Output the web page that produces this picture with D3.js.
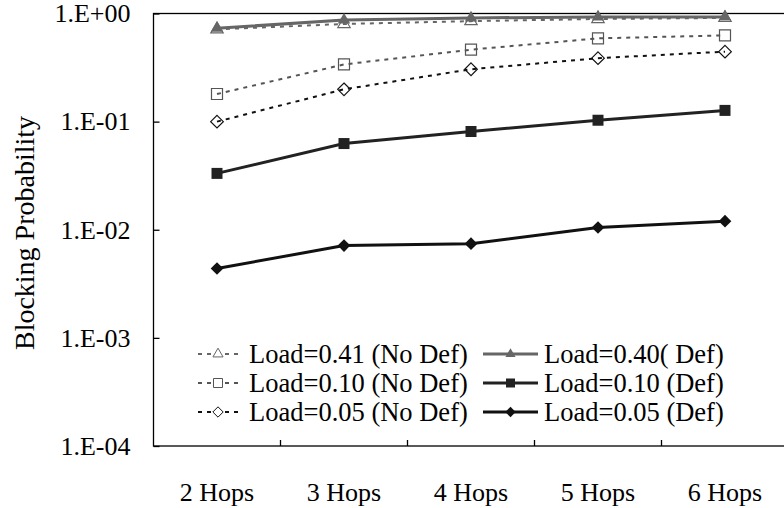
<!DOCTYPE html>
<html><head><meta charset="utf-8">
<script src="https://cdn.jsdelivr.net/npm/d3@7"></script>
<style>html,body{margin:0;padding:0;background:#fff;overflow:hidden}</style>
</head><body><svg id="c" width="784" height="508"></svg>
<script>
const categories = ["2 Hops","3 Hops","4 Hops","5 Hops","6 Hops"];
const yTicks = [1,1e-1,1e-2,1e-3,1e-4];
const yTickLabels = ["1.E+00","1.E-01","1.E-02","1.E-03","1.E-04"];
const load041NoDef = [0.714,0.80,0.85,0.89,0.91];
const load040Def   = [0.73,0.87,0.91,0.93,0.93];
const load010NoDef = [0.18,0.338,0.463,0.589,0.627];
const load010Def   = [0.0332,0.0627,0.081,0.103,0.127];
const load005NoDef = [0.10,0.199,0.305,0.386,0.444];
const load005Def   = [0.00438,0.00714,0.00743,0.0105,0.012];
const seriesNames = ["Load=0.41 (No Def)","Load=0.40( Def)","Load=0.10 (No Def)","Load=0.10 (Def)","Load=0.05 (No Def)","Load=0.05 (Def)"];

const series = [
  {name:seriesNames[0], vals:load041NoDef, color:"#666", dash:"4,5", w:2, marker:"triangle", fill:"#fff"},
  {name:seriesNames[1], vals:load040Def,   color:"#666", dash:null,  w:3, marker:"triangle", fill:"#666"},
  {name:seriesNames[2], vals:load010NoDef, color:"#555", dash:"4,5", w:2, marker:"square", fill:"#fff"},
  {name:seriesNames[3], vals:load010Def,   color:"#222", dash:null,  w:3, marker:"square", fill:"#222"},
  {name:seriesNames[4], vals:load005NoDef, color:"#111", dash:"4,5", w:2, marker:"diamond", fill:"#fff"},
  {name:seriesNames[5], vals:load005Def,   color:"#111", dash:null,  w:3, marker:"diamond", fill:"#111"}
];

const svg = d3.select("#c");
const L=153.5, R=788.5, T=13.5, B=446;
const x = d3.scaleBand().domain(categories).range([L,R]);
const y = d3.scaleLog().domain([1e-4,1]).range([B,T]);
const font = "'Liberation Serif','Times New Roman',serif";

// frame
svg.append("rect").attr("x",L).attr("y",T).attr("width",R-L).attr("height",B-T)
  .attr("fill","none").attr("stroke","#000").attr("stroke-width",1.3);

// y axis
const ya = svg.append("g").attr("transform",`translate(${L},0)`)
  .call(d3.axisLeft(y).tickValues(yTicks).tickSize(-6).tickPadding(23).tickFormat((d,i)=>yTickLabels[i]));
ya.select(".domain").remove();
ya.selectAll("line").attr("stroke","#000").attr("stroke-width",1.3);
ya.selectAll("text").attr("font-family",font).attr("font-size",26).attr("fill","#000");

// x axis ticks at band boundaries
const bounds = categories.slice(1).map(c=>x(c));
svg.append("g").selectAll("line").data(bounds).join("line")
  .attr("x1",d=>d).attr("x2",d=>d).attr("y1",B).attr("y2",B-6).attr("stroke","#000").attr("stroke-width",1.3);
svg.append("g").selectAll("text").data(categories).join("text")
  .attr("x",d=>x(d)+x.bandwidth()/2).attr("y",B+55).attr("text-anchor","middle")
  .attr("font-family",font).attr("font-size",26).text(d=>d);

// y label
svg.append("text").attr("transform","translate(34,233) rotate(-90)").attr("text-anchor","middle")
  .attr("font-family",font).attr("font-size",28).text("Blocking Probability");

function markerPath(type,s){
  if(type==="triangle") return d3.symbol(d3.symbolTriangle, s*s*0.55)();
  if(type==="square") return `M${-s/2},${-s/2}h${s}v${s}h${-s}Z`;
  return `M0,${-s/2*1.15}L${s/2*1.15},0L0,${s/2*1.15}L${-s/2*1.15},0Z`;
}

const line = d3.line().x((d,i)=>x(categories[i])+x.bandwidth()/2).y(d=>y(d));
const order = [4,2,0,5,3,1];
order.forEach(k=>{
  const s = series[k];
  const g = svg.append("g");
  const drawLine = ()=> g.append("path").attr("d",line(s.vals)).attr("fill","none")
      .attr("stroke",s.color).attr("stroke-width",s.w).attr("stroke-dasharray",s.dash);
  if(!s.dash) drawLine();
  g.selectAll("path.m").data(s.vals).join("path").attr("class","m")
    .attr("transform",(d,i)=>`translate(${x(categories[i])+x.bandwidth()/2},${y(d)})`)
    .attr("d",markerPath(s.marker,11)).attr("fill",s.fill)
    .attr("stroke",s.dash?s.color:"none").attr("stroke-width",1.2);
  if(s.dash) drawLine();
});

// legend
const legX=[198,483], legW=[40,55], textX=[249,544], legY=[354,383,412];
series.forEach((s,k)=>{
  const col=k%2, row=Math.floor(k/2);
  const g=svg.append("g");
  const cy=legY[row];
  const x0=legX[col], x1=legX[col]+legW[col], cx=(x0+x1)/2;
  g.append("line").attr("x1",x0).attr("x2",x1).attr("y1",cy).attr("y2",cy)
    .attr("stroke",s.color).attr("stroke-width",s.w).attr("stroke-dasharray",s.dash?"4,5":null);
  g.append("path").attr("transform",`translate(${cx},${cy})`).attr("d",markerPath(s.marker,9))
    .attr("fill",s.fill).attr("stroke",s.dash?s.color:"none").attr("stroke-width",1);
  g.append("text").attr("x",textX[col]).attr("y",cy).attr("dy","0.35em")
    .attr("font-family",font).attr("font-size",26.5).text(s.name);
});
</script></body></html>
